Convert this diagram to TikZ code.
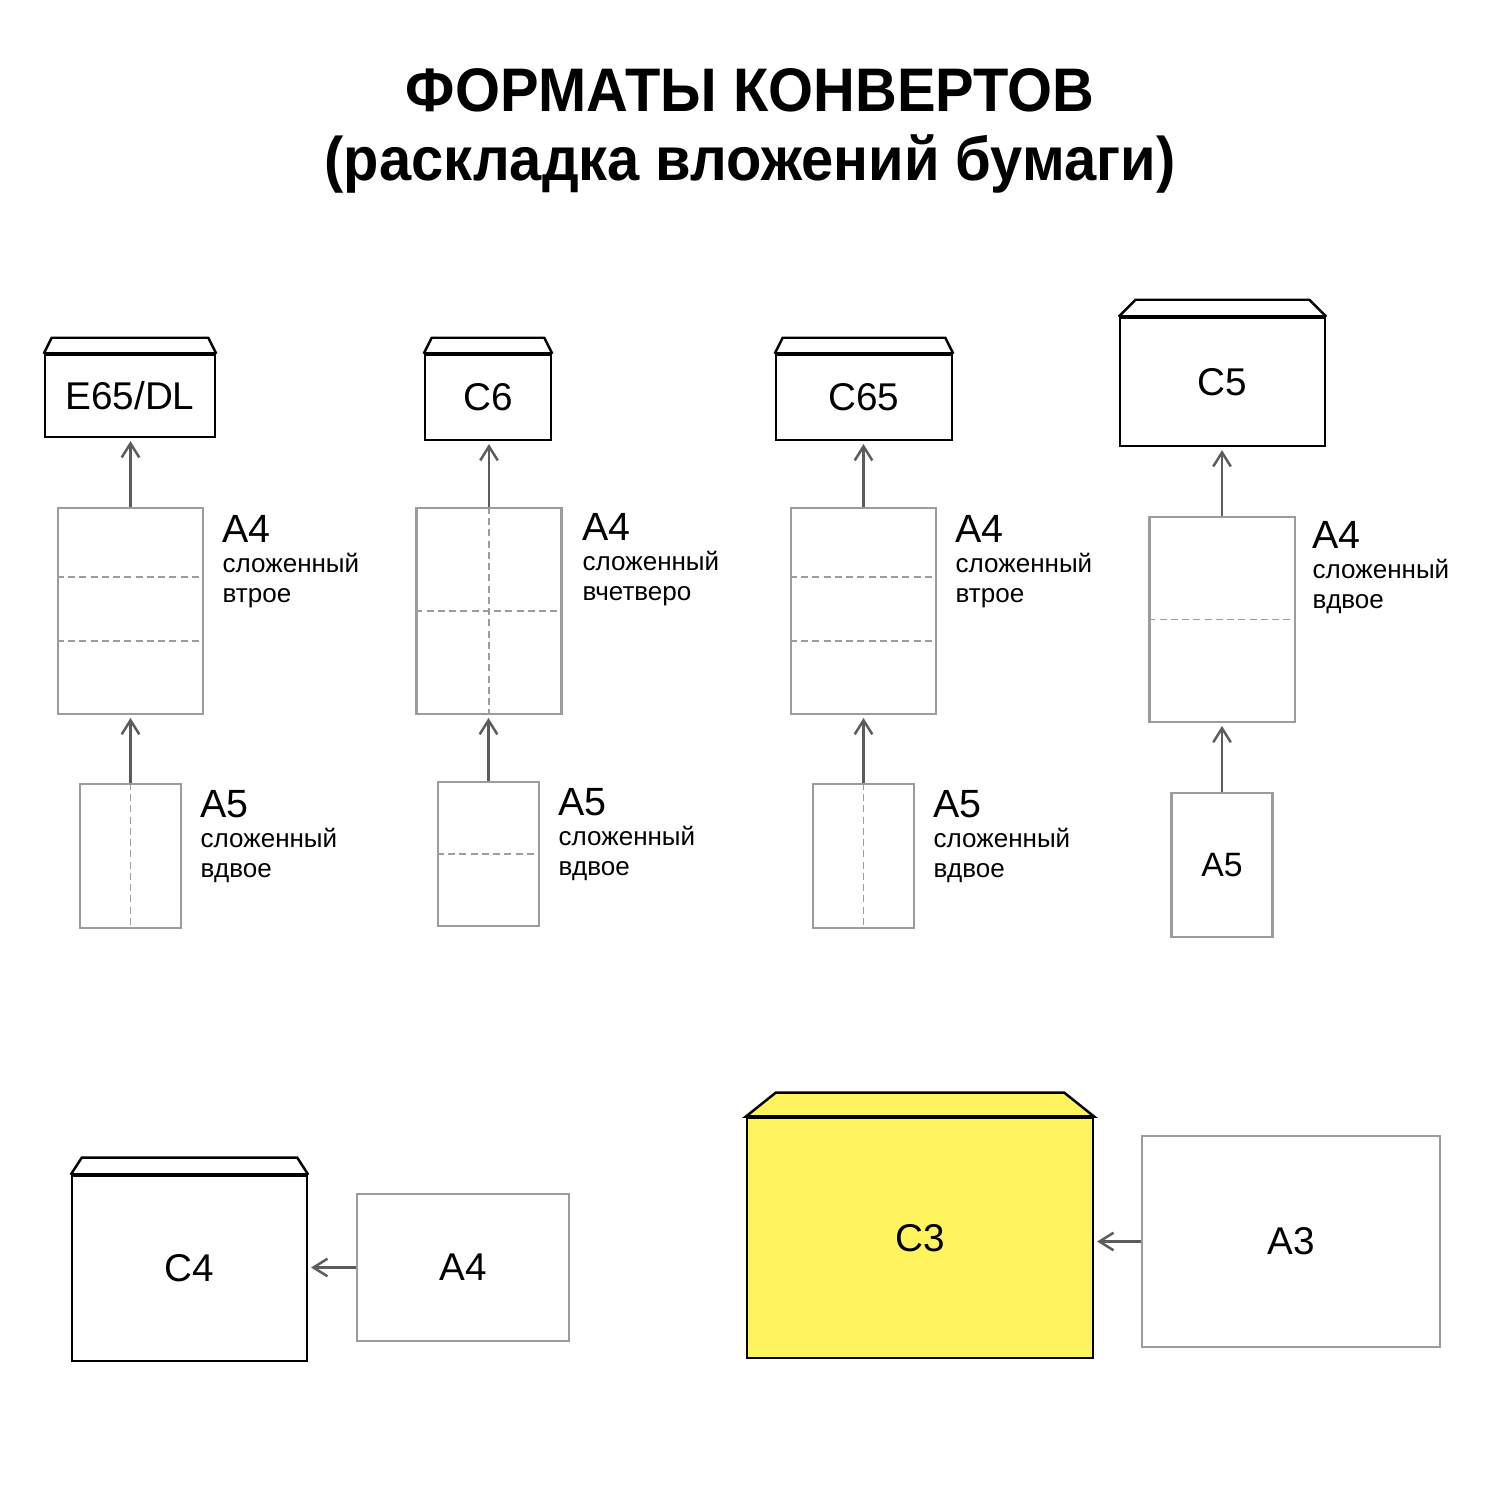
\documentclass[tikz,border=0pt]{standalone}
\usepackage{fontspec}
\setmainfont{Liberation Sans}
\newfontfamily\headfont[FakeStretch=0.94]{Liberation Sans}
\usetikzlibrary{arrows.meta,calc,positioning}

\definecolor{sheetgray}{HTML}{9C9C9C}
\definecolor{arrowgray}{HTML}{5C5C5C}
\definecolor{envyellow}{HTML}{FFF35E}

\tikzset{
    title/.style={anchor=base, inner sep=0pt, font=\headfont\bfseries\fontsize{17.5}{20}\selectfont},
    envelope/.style={draw=black, line width=0.7pt, inner sep=0pt, font=\fontsize{11}{13}\selectfont},
    flap/.style={draw=black, line width=0.7pt, line join=miter},
    sheet/.style={draw=sheetgray, line width=0.6pt, inner sep=0pt, font=\fontsize{11}{13}\selectfont},
    fold/.style={draw=sheetgray, line width=0.55pt, dash pattern=on 2pt off 1.2pt},
    feed/.style={draw=arrowgray, line width=0.7pt, -{Straight Barb[length=4pt,width=5pt]}, shorten >=0.8pt},
    fmt/.style={anchor=base west, inner sep=0pt, font=\fontsize{11.2}{13}\selectfont},
    note/.style={anchor=base west, inner sep=0pt, font=\fontsize{7.4}{9}\selectfont},
}

\begin{document}
\begin{tikzpicture}[x=0.01cm, y=-0.01cm]
    \useasboundingbox[fill=white] (0,0) rectangle (1500,1500);

    % Title
    \node[title] (head) at (750,112) {ФОРМАТЫ КОНВЕРТОВ};
    \node[title] (subhead) at (750,181) {(раскладка вложений бумаги)};

    % Envelopes
    \node[envelope, minimum width=1.70cm, minimum height=0.82cm] (dl) at (130,396) {E65/DL};
    \node[envelope, minimum width=1.26cm, minimum height=0.85cm] (csix) at (488,397.5) {C6};
    \node[envelope, minimum width=1.76cm, minimum height=0.85cm] (csixfive) at (864,397.5) {C65};
    \node[envelope, minimum width=2.05cm, minimum height=1.28cm] (cfive) at (1222.5,382) {C5};
    \node[envelope, minimum width=2.35cm, minimum height=1.85cm] (cfour) at (189.5,1268.5) {C4};
    \node[envelope, fill=envyellow, minimum width=3.46cm, minimum height=2.40cm] (cthree) at (920,1238) {C3};

    % Flaps
    \foreach \env/\dx/\dy in {dl/8/16, csix/8/16, csixfive/8/16, cfive/17/17, cfour/11/17} {
        \draw[flap] (\env.north west) -- ([shift={(\dx,-\dy)}]\env.north west)
            -- ([shift={(-\dx,-\dy)}]\env.north east) -- (\env.north east);
        \draw[line width=1.2pt] (\env.north west) -- (\env.north east);
    }
    \filldraw[flap, fill=envyellow] (cthree.north west) -- ([shift={(30,-24)}]cthree.north west)
        -- ([shift={(-30,-24)}]cthree.north east) -- (cthree.north east) -- cycle;
    \draw[line width=1.2pt] (cthree.north west) -- (cthree.north east);

    % Sheets A4
    \node[sheet, minimum width=1.45cm, minimum height=2.06cm] (afoura) at (130.5,611) {};
    \node[sheet, minimum width=1.45cm, minimum height=2.06cm] (afourb) at (489,611) {};
    \node[sheet, minimum width=1.45cm, minimum height=2.06cm] (afourc) at (863.5,611) {};
    \node[sheet, minimum width=1.45cm, minimum height=2.05cm] (afourd) at (1222,619.5) {};
    \node[sheet, minimum width=2.12cm, minimum height=1.47cm] (afoure) at (463,1267.5) {A4};

    % Sheets A5 and A3
    \node[sheet, minimum width=1.01cm, minimum height=1.44cm] (afivea) at (130.5,856) {};
    \node[sheet, minimum width=1.01cm, minimum height=1.44cm] (afiveb) at (488.5,854) {};
    \node[sheet, minimum width=1.01cm, minimum height=1.44cm] (afivec) at (863.5,856) {};
    \node[sheet, minimum width=1.01cm, minimum height=1.44cm, font=\fontsize{9.6}{11}\selectfont] (afived) at (1222,865) {A5};
    \node[sheet, minimum width=2.98cm, minimum height=2.11cm] (athree) at (1291,1241.5) {A3};

    % Folds across
    \foreach \s/\t in {afoura/0.335, afoura/0.646, afourc/0.335, afourc/0.646, afourb/0.5, afourd/0.5, afiveb/0.5} {
        \draw[fold] ($(\s.north west)!\t!(\s.south west)$) -- ($(\s.north east)!\t!(\s.south east)$);
    }
    % Folds down
    \foreach \s in {afourb, afivea, afivec} {
        \draw[fold] (\s.north) -- (\s.south);
    }

    % Feed arrows
    \foreach \from/\to in {afoura/dl, afourb/csix, afourc/csixfive, afourd/cfive,
                           afivea/afoura, afiveb/afourb, afivec/afourc, afived/afourd} {
        \draw[feed] (\from.north) -- (\from.north |- \to.south);
    }
    \draw[feed] (afoure.west) -- (afoure.west -| cfour.east);
    \draw[feed] (athree.west) -- (athree.west -| cthree.east);

    % Labels
    \foreach \i/\x/\y/\fmtname/\how in {la/222/542/A4/втрое, lb/582/540/A4/вчетверо,
            lc/955/542/A4/втрое, ld/1312/548/A4/вдвое, le/200/817/A5/вдвое,
            lf/558/815/A5/вдвое, lg/933/817/A5/вдвое} {
        \node[fmt] (\i) at (\x,\y) {\fmtname};
        \node[note] (\i-1) at (\x,\y+30) {сложенный};
        \node[note] (\i-2) at (\x,\y+60) {\how};
    }
\end{tikzpicture}
\end{document}
